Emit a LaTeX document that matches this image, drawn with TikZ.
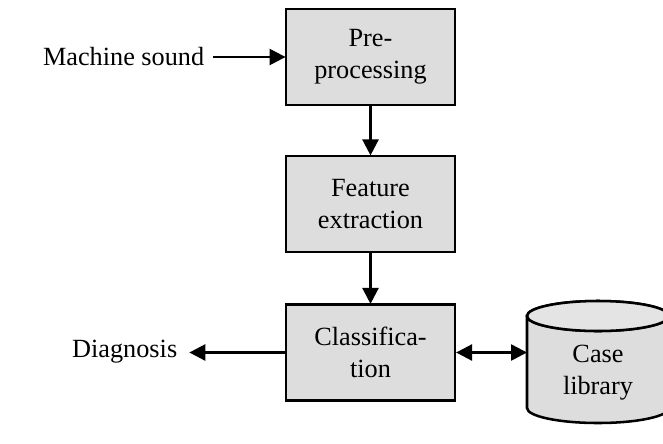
\documentclass[tikz,border=0pt]{standalone}
\usepackage{fontspec}
\setmainfont{Liberation Serif}
\usetikzlibrary{arrows.meta}
\definecolor{boxgray}{RGB}{221,221,221}
\definecolor{topgray}{RGB}{228,228,228}
\tikzset{
  px/.style={x=0.75pt,y=-0.75pt},
  procbox/.style={draw=black,line width=1.9pt,fill=boxgray,minimum width=126.5pt,minimum height=72pt,inner sep=0pt,align=center,font=\fontsize{19.7pt}{24pt}\selectfont},
  lbl/.style={inner sep=0pt,font=\fontsize{19.7pt}{24pt}\selectfont},
  flow/.style={line width=1.9pt,-{Triangle[length=12pt,width=12pt]},shorten >=-0.5pt},
  biflow/.style={line width=1.9pt,{Triangle[length=12pt,width=12pt]}-{Triangle[length=12pt,width=12pt]}}
}
\begin{document}
\begin{tikzpicture}[px]
\useasboundingbox (0,0) rectangle (663,443);
\node[procbox] (pre) at (370.5,57) {Pre-\\processing};
\node[procbox] (fea) at (370.5,204) {Feature\\extraction};
\node[procbox] (cla) at (370.5,352.5) {Classifica-\\tion};
\begin{scope}
\clip (0,0) rectangle (663,443);
\draw[line width=1.9pt,fill=boxgray] (527,316) -- (527,408) arc[start angle=180,end angle=360,x radius=71,y radius=-15] -- (669,316) arc[start angle=0,end angle=360,x radius=71,y radius=-15] -- cycle;
\draw[line width=1.9pt,fill=topgray] (598,316) ellipse[x radius=71,y radius=15];
\end{scope}
\node[lbl,align=center] (cas) at (598,373) {Case\\library};
\coordinate (casl) at (527,352.5);
\node[lbl,anchor=east] (mac) at (204.5,57) {Machine sound};
\node[lbl,anchor=east] (dia) at (177.5,352) {Diagnosis};
\coordinate (macend) at (213,57);
\coordinate (diaend) at (190,352.5);
\draw[flow] (macend) -- (macend -| pre.west);
\draw[flow] (pre) -- (fea);
\draw[flow] (fea) -- (cla);
\draw[flow] (cla) -- (diaend);
\draw[biflow] (cla) -- (casl);
\end{tikzpicture}
\end{document}
